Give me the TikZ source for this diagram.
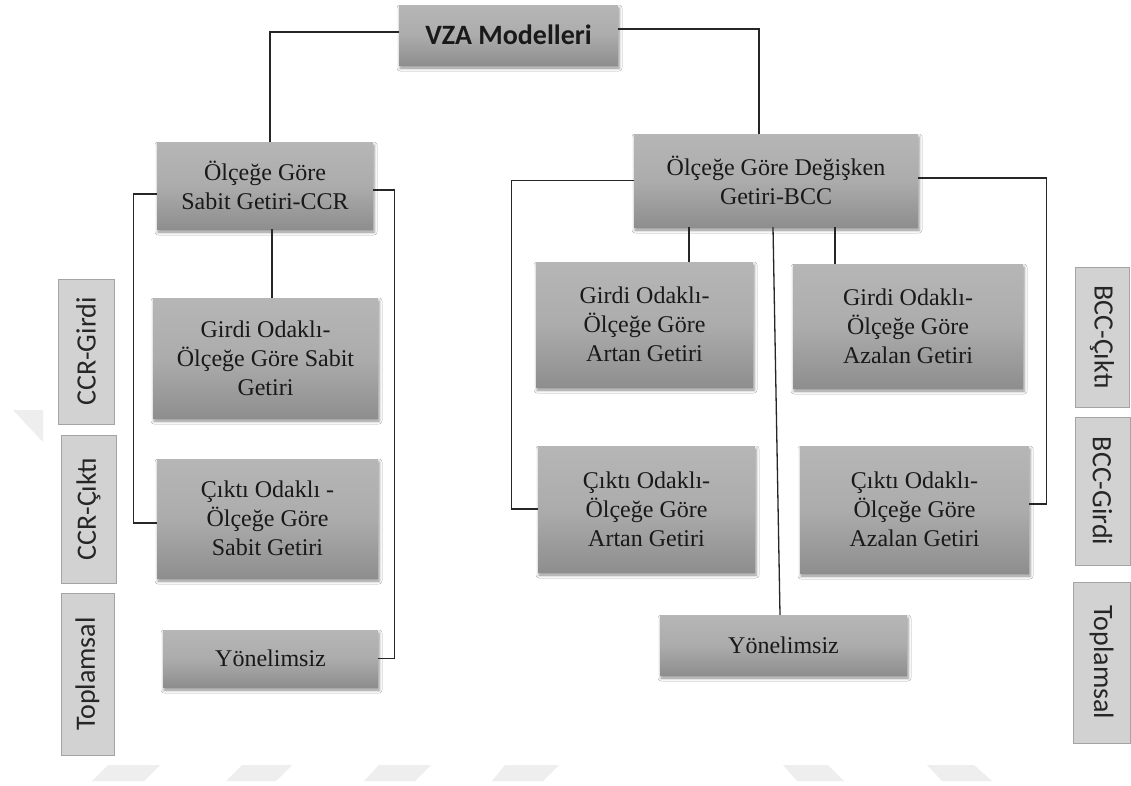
\documentclass[tikz,border=0pt]{standalone}
\usepackage{fontspec}
\setmainfont{Liberation Serif}
\newfontfamily\carl{Carlito}
\usetikzlibrary{shadows.blur}
\definecolor{boxtop}{HTML}{B6B6B6}
\definecolor{boxmid}{HTML}{ACACAC}
\definecolor{boxbot}{HTML}{8E8E8E}
\definecolor{sidefill}{HTML}{D2D2D2}
\definecolor{sideline}{HTML}{A4A4A4}
\definecolor{linecol}{HTML}{262626}
\definecolor{wmark}{HTML}{EEEEEE}
\tikzset{
  gbox/.style={shading=axis, top color=boxtop, bottom color=boxbot, middle color=boxmid,
    blur shadow={shadow xshift=1pt, shadow yshift=-3pt, shadow blur radius=3pt, shadow opacity=45},
    align=center, text=black!90, inner sep=2pt,
    font=\fontsize{24}{29}\selectfont},
  sidebox/.style={fill=sidefill, draw=sideline, line width=1pt, inner sep=0pt,
    text=black!85, font=\carl\fontsize{28}{32}\selectfont},
  conn/.style={draw=linecol, line width=1.3pt}
}
\begin{document}
\begin{tikzpicture}[x=1pt,y=-1pt]
\useasboundingbox (0,0) rectangle (1131,785);
\fill[white] (0,0) rectangle (1131,785);
% faint watermark shapes
\fill[wmark] (108,765) -- (160,765) -- (144,781) -- (92,781) -- cycle;
\fill[wmark] (242,765) -- (292,765) -- (276,781) -- (226,781) -- cycle;
\fill[wmark] (379,765) -- (431,765) -- (415,781) -- (364,781) -- cycle;
\fill[wmark] (505,765) -- (559,765) -- (543,781) -- (492,781) -- cycle;
\fill[wmark] (783,765) -- (828,765) -- (844,781) -- (797,781) -- cycle;
\fill[wmark] (927,765) -- (974,765) -- (992,781) -- (942,781) -- cycle;
\fill[wmark] (13,410) -- (43,410) -- (43,442) -- cycle;

% main boxes
\node[gbox, minimum width=219pt, minimum height=60pt, font=\carl\bfseries\fontsize{28}{32}\selectfont] (vza) at (508.5,35) {VZA Modelleri};
\node[gbox, minimum width=216pt, minimum height=87pt] (ccr) at (265,185.5) {Ölçeğe Göre\\Sabit Getiri-CCR};
\node[gbox, minimum width=225pt, minimum height=120pt] (cg) at (265.5,358) {Girdi Odaklı-\\Ölçeğe Göre Sabit\\Getiri};
\node[gbox, minimum width=221pt, minimum height=119pt] (cc) at (267.5,518.5) {Çıktı Odaklı -\\Ölçeğe Göre\\Sabit Getiri};
\node[gbox, minimum width=215pt, minimum height=57pt] (cy) at (270.5,658.5) {Yönelimsiz};
\node[gbox, minimum width=284pt, minimum height=93pt] (bcc) at (776,180.5) {Ölçeğe Göre Değişken\\Getiri-BCC};
\node[gbox, minimum width=217pt, minimum height=125pt] (ga) at (644.5,324.5) {Girdi Odaklı-\\Ölçeğe Göre\\Artan Getiri};
\node[gbox, minimum width=230pt, minimum height=124pt] (gz) at (908,326) {Girdi Odaklı-\\Ölçeğe Göre\\Azalan Getiri};
\node[gbox, minimum width=217pt, minimum height=126pt] (ca) at (646.5,509) {Çıktı Odaklı-\\Ölçeğe Göre\\Artan Getiri};
\node[gbox, minimum width=229pt, minimum height=127pt] (cz) at (914.5,509.5) {Çıktı Odaklı-\\Ölçeğe Göre\\Azalan Getiri};
\node[gbox, minimum width=247pt, minimum height=60pt] (by) at (783.5,645) {Yönelimsiz};

% side labels
\node[sidebox, rotate=90, minimum width=145pt, minimum height=56pt] (l1) at (86,351.5) {CCR-Girdi};
\node[sidebox, rotate=90, minimum width=148pt, minimum height=55pt] (l2) at (88.5,509) {CCR-Çıktı};
\node[sidebox, rotate=90, minimum width=162pt, minimum height=53pt] (l3) at (87.5,674) {Toplamsal};
\node[sidebox, rotate=-90, minimum width=140pt, minimum height=54pt] (r1) at (1102,337) {BCC-Çıktı};
\node[sidebox, rotate=-90, minimum width=148pt, minimum height=55pt] (r2) at (1102.5,491) {BCC-Girdi};
\node[sidebox, rotate=-90, minimum width=161pt, minimum height=57pt] (r3) at (1101.5,662.5) {Toplamsal};

% connectors
\draw[conn] ([yshift=3pt]vza.west) -| ([xshift=5pt]ccr.north);
\draw[conn] ([yshift=6pt]vza.east) -| ([xshift=-17pt]bcc.north);
\draw[conn] ([yshift=-8.5pt]ccr.west) -- ++(-23,0) |- ([yshift=-4.5pt]cc.west);
\draw[conn] ([yshift=-4.5pt]ccr.east) -- ++(21,0) |- (cy.east);
\draw[conn] ([xshift=7pt]ccr.south) -- ([xshift=7pt]ccr.south |- cg.north);
\draw[conn] (bcc.west) -- ++(-122,0) |- (ca.west);
\draw[conn] ([yshift=2.5pt]bcc.east) -- ++(128,0) |- ([yshift=5.5pt]cz.east);
\draw[conn] ([xshift=44.5pt]ga.north |- bcc.south) -- ([xshift=44.5pt]ga.north);
\draw[conn] ([xshift=-73pt]gz.north |- bcc.south) -- ([xshift=-73pt]gz.north);
\draw[conn] ([xshift=-3pt]bcc.south) -- ([xshift=-3.5pt]by.north);
\end{tikzpicture}
\end{document}
